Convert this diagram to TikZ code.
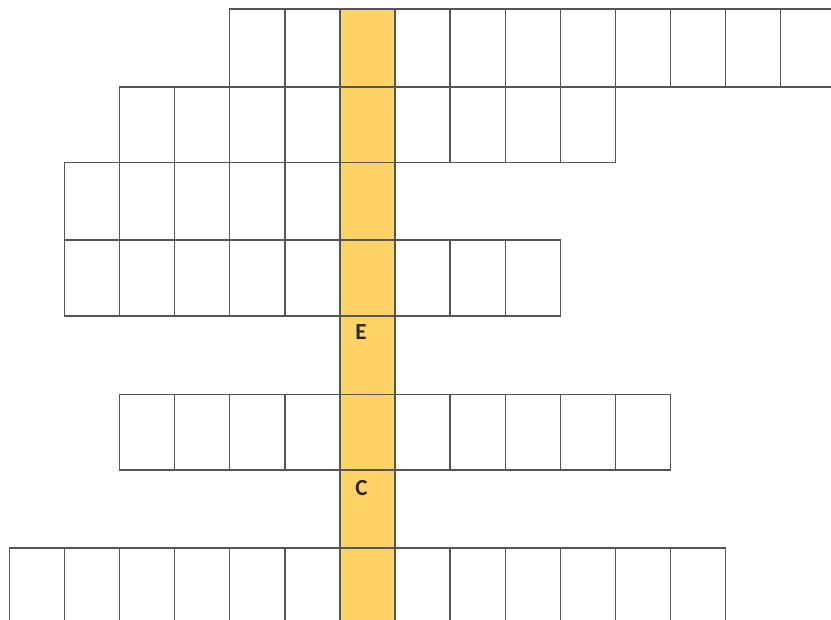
\documentclass[tikz,border=0pt]{standalone}
\usepackage{fontspec}
\setmainfont{Carlito}
\definecolor{gold}{RGB}{255,212,102}
\definecolor{gridline}{RGB}{85,85,85}
\definecolor{lettercol}{RGB}{40,40,40}
\begin{document}
\begin{tikzpicture}[x=1pt,y=-1pt,
  cellbox/.style={draw=gridline, line width=1.4pt},
  letter/.style={font=\bfseries\fontsize{23}{23}\selectfont, text=lettercol, inner sep=0pt}]
\useasboundingbox (0,0) rectangle (831,620);
\begin{scope}
\clip (0,0) rectangle (831,620);
\fill[gold] (339.9,9) rectangle (395,630);
\foreach \t/\b/\f/\l in {9/87/4/14, 87/162.5/2/10, 162.5/240/1/6, 240/316/1/9, 316/394.5/6/6, 394.5/470/2/11, 470/548/6/6, 548/625/0/12}{
  \foreach \k in {\f,...,\l}{
    \pgfmathsetmacro\xa{9.3+55.1*\k}
    \pgfmathsetmacro\xb{9.3+55.1*(\k+1)}
    \draw[cellbox] (\xa,\t) rectangle (\xb,\b);
  }
}
\end{scope}
\node[letter] (E) at (361,332) {E};
\node[letter] (C) at (361.5,488) {C};
\end{tikzpicture}
\end{document}
